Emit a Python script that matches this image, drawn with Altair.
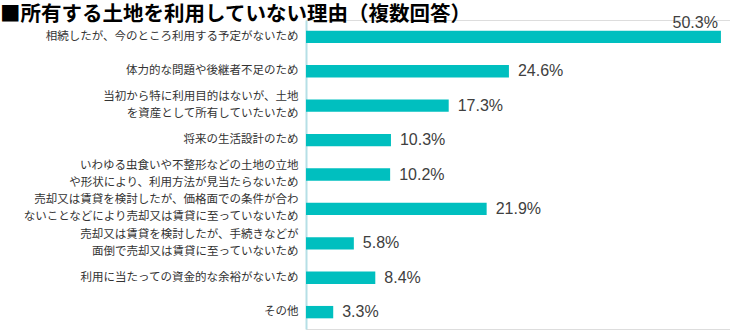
import altair as alt
import pandas as pd

reasons = [
    "相続したが、今のところ利用する予定がないため",
    "体力的な問題や後継者不足のため",
    "当初から特に利用目的はないが、土地|を資産として所有していたいため",
    "将来の生活設計のため",
    "いわゆる虫食いや不整形などの土地の立地|や形状により、利用方法が見当たらないため",
    "売却又は賃貸を検討したが、価格面での条件が合わ|ないことなどにより売却又は賃貸に至っていないため",
    "売却又は賃貸を検討したが、手続きなどが|面倒で売却又は賃貸に至っていないため",
    "利用に当たっての資金的な余裕がないため",
    "その他",
]
values = [50.3, 24.6, 17.3, 10.3, 10.2, 21.9, 5.8, 8.4, 3.3]
title_text = "■所有する土地を利用していない理由（複数回答）"

df = pd.DataFrame({"reason": reasons, "value": values})
df["label"] = df["value"].map(lambda v: f"{v:.1f}%")

BAR = "#00BFBF"
JP = "Noto Sans CJK JP"

y_enc = alt.Y(
    "reason:N",
    sort=reasons,
    title=None,
    scale=alt.Scale(paddingInner=0.64, paddingOuter=0.31),
    axis=alt.Axis(
        labelExpr="split(datum.label, '|')",
        labelFont=JP,
        labelFontSize=11.5,
        labelColor="#333333",
        labelLineHeight=17,
        labelLimit=400,
        labelPadding=8,
        labelOffset={"condition": {"test": "indexof(datum.label, '|') >= 0", "value": -8.5}, "value": 0},
        ticks=False,
        domainColor="#B5DFE6",
        domainWidth=2,
    ),
)
x_enc = alt.X("value:Q", scale=alt.Scale(domain=[0, 51.4], nice=False), axis=None)

base = alt.Chart(df)
bars = base.mark_bar(color=BAR).encode(x=x_enc, y=y_enc)
labels = base.transform_filter("datum.value < 50").mark_text(
    align="left", baseline="middle", dx=9, fontSize=16, font="Liberation Sans", color="#404040"
).encode(x=x_enc, y=y_enc, text="label:N")
top_label = base.transform_filter("datum.value >= 50").mark_text(
    align="right", baseline="middle", dx=-3, dy=-14, fontSize=16, font="Liberation Sans", color="#404040"
).encode(x=x_enc, y=y_enc, text="label:N")

chart = (
    alt.layer(bars, labels, top_label)
    .properties(
        width=424,
        height=309,
        autosize=alt.AutoSizeParams(type="none"),
        padding={"left": 306, "top": 20, "right": 0, "bottom": 2},
        title=alt.TitleParams(
            title_text,
            anchor="start",
            frame="group",
            dx=-306,
            dy=15,
            fontSize=20.5,
            font=JP,
            fontWeight="bold",
            color="#000000",
        ),
    )
    .configure_view(stroke=None)
    .configure(background="white")
)

chart.save("out.html", embed_options={"renderer": "svg", "actions": False})
